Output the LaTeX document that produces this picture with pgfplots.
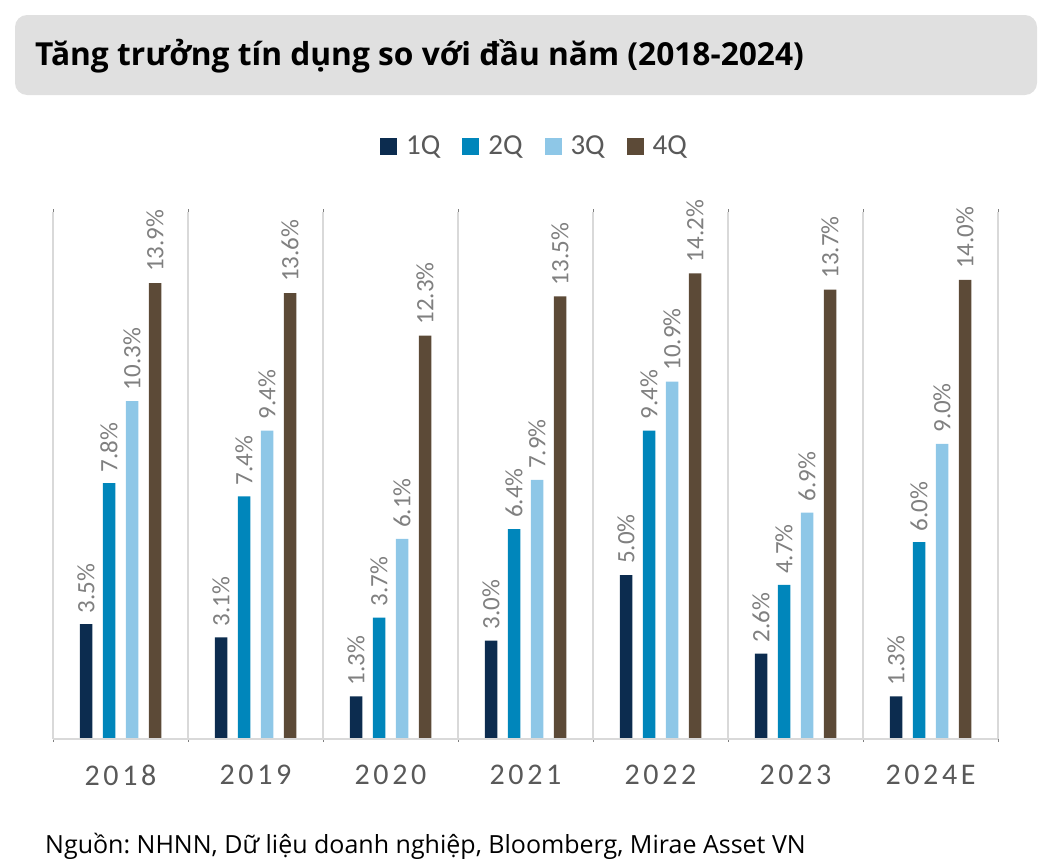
\documentclass[border=0pt]{standalone}
\usepackage{fontspec}
\setmainfont{Carlito}
\newfontfamily\titlefont{Open Sans}
\usepackage{pgfplots}
\pgfplotsset{compat=1.18}
\definecolor{cA}{HTML}{0C2C4F}
\definecolor{cB}{HTML}{0086BB}
\definecolor{cC}{HTML}{8EC7E7}
\definecolor{cD}{HTML}{5C4A37}
\definecolor{boxgray}{HTML}{E0E0E0}
\definecolor{gridgray}{HTML}{D9D9D9}
\definecolor{txtgray}{HTML}{595959}
\definecolor{lblgray}{HTML}{808080}
\frenchspacing
\begin{document}
\begin{tikzpicture}
\useasboundingbox (0,0) rectangle (1045bp,-863bp);
\fill[boxgray, rounded corners=12bp] (15bp,-15bp) rectangle (1037bp,-95bp);
\node[anchor=base west, inner sep=0pt, font=\titlefont\bfseries\fontsize{31.7bp}{36bp}\selectfont] at (35bp,-65bp) {Tăng trưởng tín dụng so với đầu năm (2018-2024)};
\begin{axis}[
  at={(53bp,-739bp)}, anchor=south west,
  scale only axis, width=945bp, height=527bp,
  xmin=-0.5, xmax=6.5, ymin=0, ymax=16.07,
  ybar=10.5bp, bar width=12.5bp,
  axis line style={draw=none},
  xtick={0,...,6},
  xticklabels={2018,2019,2020,2021,2022,2023,2024E},
  xticklabel style={font=\addfontfeature{LetterSpace=12}\fontsize{30bp}{34bp}\selectfont, text=txtgray, inner sep=0pt, anchor=north, yshift=-26bp},
  major tick length=0pt,
  ytick=\empty,
  minor xtick={-0.5,0.5,...,6.5},
  minor x grid style={gridgray, line width=2bp},
  xminorgrids=true,
  /pgf/number format/assume math mode=true,
  nodes near coords={\pgfmathprintnumber[fixed,fixed zerofill,precision=1]{\pgfplotspointmeta}\%},
  nodes near coords style={rotate=90, anchor=west, inner xsep=11bp, inner ysep=0pt, text=lblgray, font=\fontsize{25bp}{30bp}\selectfont},
  legend columns=4,
  legend style={at={(0.5085,1.125)}, anchor=center, draw=none, fill=none, font=\fontsize{29bp}{33bp}\selectfont, text=txtgray, inner sep=0pt,
    nodes={inner sep=0pt},
    /tikz/every odd column/.append style={column sep=9bp},
    /tikz/every even column/.append style={column sep=22bp}},
  legend image code/.code={\fill[#1] (0bp,-8.5bp) rectangle (17bp,8.5bp);},
]
\addplot[fill=cA, draw=none] coordinates {(0,3.5) (1,3.1) (2,1.3) (3,3.0) (4,5.0) (5,2.6) (6,1.3)};
\addplot[fill=cB, draw=none] coordinates {(0,7.8) (1,7.4) (2,3.7) (3,6.4) (4,9.4) (5,4.7) (6,6.0)};
\addplot[fill=cC, draw=none] coordinates {(0,10.3) (1,9.4) (2,6.1) (3,7.9) (4,10.9) (5,6.9) (6,9.0)};
\addplot[fill=cD, draw=none] coordinates {(0,13.9) (1,13.6) (2,12.3) (3,13.5) (4,14.2) (5,13.7) (6,14.0)};
\legend{1Q,2Q,3Q,4Q}
\draw[gridgray, line width=2.5bp] (axis cs:-0.5,0) -- (axis cs:6.5,0);
\end{axis}
\node[anchor=base west, inner sep=0pt, font=\titlefont\fontsize{25bp}{30bp}\selectfont] at (45bp,-853bp) {Nguồn: NHNN, Dữ liệu doanh nghiệp, Bloomberg, Mirae Asset VN};
\end{tikzpicture}
\end{document}
